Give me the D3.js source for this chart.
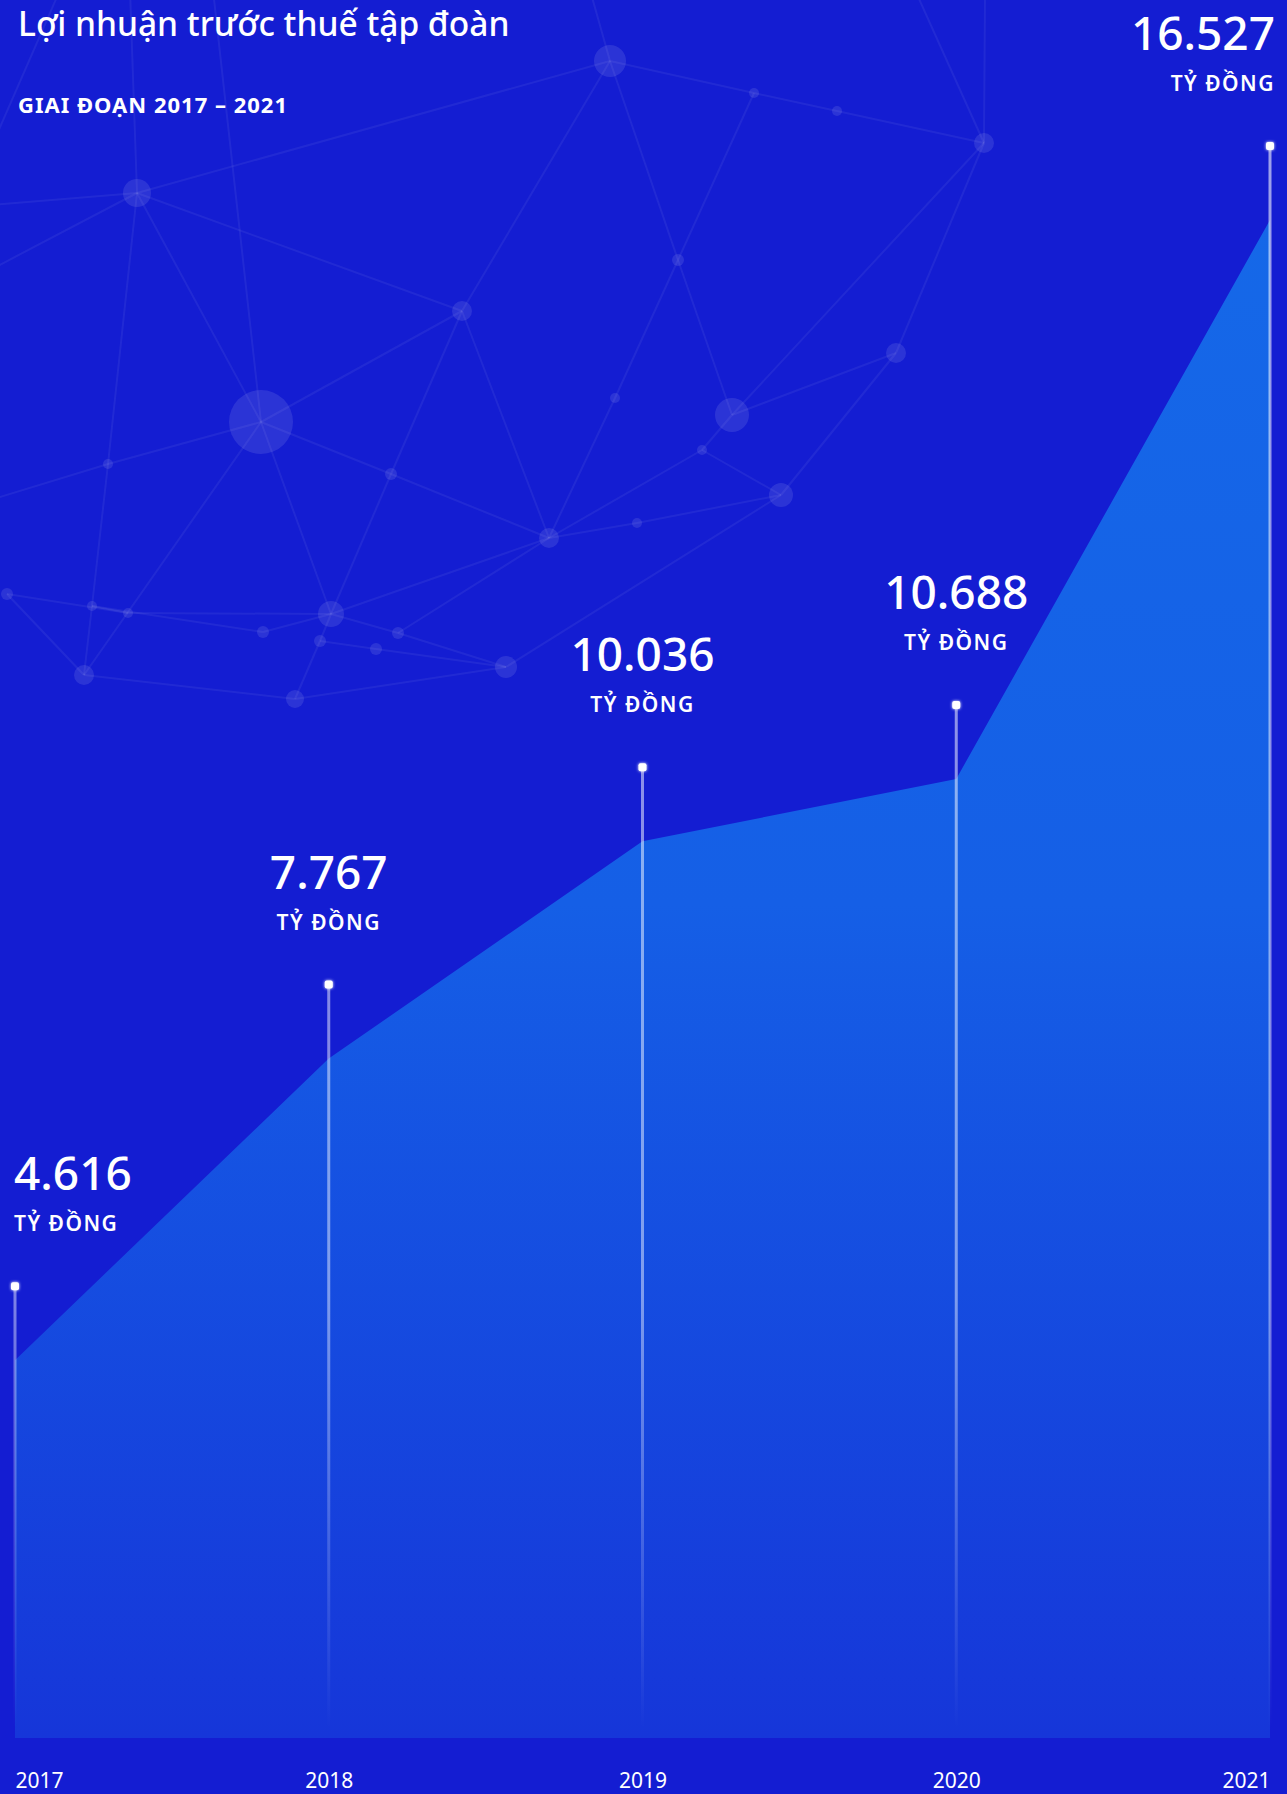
<!DOCTYPE html>
<html lang="vi">
<head>
<meta charset="utf-8">
<script src="https://cdn.jsdelivr.net/npm/d3@7"></script>
<style>
  html, body { margin: 0; padding: 0; background: #141dd2; }
  svg { display: block; font-family: "Noto Sans", "Open Sans", sans-serif; }
</style>
</head>
<body>
<svg id="chart" width="1287" height="1794"></svg>
<script>
// dữ liệu
const years = ["2017", "2018", "2019", "2020", "2021"];
const profits = [4616, 7767, 10036, 10688, 16527];
const valueLabels = ["4.616", "7.767", "10.036", "10.688", "16.527"];
const unitLabel = "TỶ ĐỒNG";
const titleText = "Lợi nhuận trước thuế tập đoàn";
const subtitleText = "GIAI ĐOẠN 2017 – 2021";

// mạng lưới trang trí phía nền
const bgNodes = [
  ["a", 610, 61, 16], ["b", 137, 193, 14], ["c", 754, 93, 5], ["d", 837, 111, 5],
  ["e", 984, 143, 10], ["f", 462, 311, 10], ["g", 678, 260, 6], ["h", 261, 422, 32],
  ["i", 732, 415, 17], ["j", 896, 353, 10], ["k", 615, 398, 5], ["l", 108, 464, 5],
  ["m", 391, 474, 6], ["n", 702, 450, 5], ["o", 781, 495, 12], ["p", 549, 538, 10],
  ["q", 637, 523, 5], ["r", 7, 594, 6], ["s", 92, 606, 5], ["t", 128, 613, 5],
  ["u", 331, 614, 13], ["v", 263, 632, 6], ["w", 320, 641, 6], ["x", 398, 633, 6],
  ["y", 376, 649, 6], ["z", 506, 667, 11], ["A", 84, 675, 10], ["B", 295, 699, 9],
  // điểm neo ngoài khung
  ["E1", -10, 205, 0], ["E2", 213, -10, 0], ["E3", 130, -10, 0], ["E4", 915, -10, 0],
  ["E5", 985, -10, 0], ["E6", -10, 270, 0], ["E7", 590, -10, 0], ["E8", -10, 500, 0],
  ["E9", -10, 150, 0], ["E10", 60, -10, 0]
];
const bgLinks = [
  ["b", "a"], ["a", "f"], ["a", "g"], ["a", "c"], ["c", "d"], ["d", "e"], ["c", "g"],
  ["e", "i"], ["b", "h"], ["b", "f"], ["b", "l"], ["l", "s"], ["s", "A"], ["f", "h"],
  ["f", "m"], ["f", "p"], ["h", "l"], ["h", "A"], ["h", "m"], ["h", "u"], ["h", "E2"],
  ["m", "u"], ["m", "p"], ["g", "k"], ["k", "p"], ["g", "i"], ["i", "j"], ["i", "n"],
  ["j", "o"], ["n", "o"], ["o", "q"], ["q", "p"], ["o", "z"], ["n", "p"], ["p", "u"],
  ["u", "w"], ["u", "v"], ["u", "x"], ["x", "z"], ["y", "z"], ["w", "y"], ["v", "s"],
  ["r", "t"], ["t", "u"], ["r", "A"], ["A", "B"], ["B", "z"], ["B", "w"], ["s", "t"],
  ["b", "E1"], ["b", "E3"], ["e", "E4"], ["e", "E5"], ["b", "E6"], ["a", "E7"],
  ["l", "E8"], ["E9", "E10"], ["j", "e"], ["x", "p"]
];

const width = 1287;
const height = 1794;
const svg = d3.select("#chart");
const defs = svg.append("defs");

svg.append("rect").attr("width", width).attr("height", height).attr("fill", "#141dd2");

// nền mạng lưới
const nodeById = new Map(bgNodes.map(d => [d[0], d]));
const bg = svg.append("g").attr("class", "network");
bg.selectAll("line")
  .data(bgLinks)
  .enter().append("line")
  .attr("x1", d => nodeById.get(d[0])[1])
  .attr("y1", d => nodeById.get(d[0])[2])
  .attr("x2", d => nodeById.get(d[1])[1])
  .attr("y2", d => nodeById.get(d[1])[2])
  .attr("stroke", "#ffffff")
  .attr("stroke-opacity", 0.06)
  .attr("stroke-width", 2);
bg.selectAll("circle")
  .data(bgNodes.filter(d => d[3] > 0))
  .enter().append("circle")
  .attr("cx", d => d[1])
  .attr("cy", d => d[2])
  .attr("r", d => d[3])
  .attr("fill", "#ffffff")
  .attr("fill-opacity", 0.1);

// thang đo
const x = d3.scalePoint().domain(years).range([15, 1270]);
const y = d3.scaleLinear().domain([0, d3.max(profits)]).range([1802, 220]);
const baseY = 1738;
const stemOffset = 74;

const data = years.map((yr, i) => ({ year: yr, value: profits[i], label: valueLabels[i] }));

// gradient vùng
const areaGrad = defs.append("linearGradient")
  .attr("id", "areaGrad")
  .attr("gradientUnits", "userSpaceOnUse")
  .attr("x1", 0).attr("y1", y(d3.max(profits)))
  .attr("x2", 0).attr("y2", baseY);
areaGrad.append("stop").attr("offset", "0%").attr("stop-color", "#1568e8");
areaGrad.append("stop").attr("offset", "45%").attr("stop-color", "#155fe6");
areaGrad.append("stop").attr("offset", "100%").attr("stop-color", "#1636d9");

const stemGrad = defs.append("linearGradient")
  .attr("id", "stemGrad")
  .attr("gradientUnits", "userSpaceOnUse")
  .attr("x1", 0).attr("y1", 0)
  .attr("x2", 0).attr("y2", baseY - 10);
stemGrad.append("stop").attr("offset", "0%").attr("stop-color", "#ffffff").attr("stop-opacity", 0.6);
stemGrad.append("stop").attr("offset", "75%").attr("stop-color", "#ffffff").attr("stop-opacity", 0.45);
stemGrad.append("stop").attr("offset", "100%").attr("stop-color", "#ffffff").attr("stop-opacity", 0);

const glow = defs.append("filter").attr("id", "glow")
  .attr("x", "-200%").attr("y", "-200%").attr("width", "500%").attr("height", "500%");
glow.append("feGaussianBlur").attr("stdDeviation", 1.5).attr("result", "blur");
const merge = glow.append("feMerge");
merge.append("feMergeNode").attr("in", "blur");
merge.append("feMergeNode").attr("in", "SourceGraphic");

// vùng
const area = d3.area()
  .x(d => x(d.year))
  .y0(baseY)
  .y1(d => y(d.value));

svg.append("path")
  .datum(data)
  .attr("d", area)
  .attr("fill", "url(#areaGrad)");

// cột mốc
const stems = svg.append("g").attr("class", "stems");
stems.selectAll("rect.stem")
  .data(data)
  .enter().append("rect")
  .attr("class", "stem")
  .attr("x", d => x(d.year) - 1.5)
  .attr("y", d => y(d.value) - stemOffset)
  .attr("width", 3)
  .attr("height", d => baseY - (y(d.value) - stemOffset))
  .attr("fill", "url(#stemGrad)");

stems.selectAll("rect.dot")
  .data(data)
  .enter().append("rect")
  .attr("class", "dot")
  .attr("x", d => x(d.year) - 4)
  .attr("y", d => y(d.value) - stemOffset - 4)
  .attr("width", 8)
  .attr("height", 8)
  .attr("rx", 2)
  .attr("fill", "#ffffff")
  .attr("filter", "url(#glow)");

// nhãn giá trị
const anchorFor = (d, i) => i === 0 ? "start" : (i === data.length - 1 ? "end" : "middle");
const labelX = (d, i) => i === 0 ? x(d.year) - 1 : (i === data.length - 1 ? x(d.year) + 5 : x(d.year));

const labels = svg.append("g").attr("class", "labels").attr("fill", "#ffffff");
labels.selectAll("text.value")
  .data(data)
  .enter().append("text")
  .attr("class", "value")
  .attr("x", labelX)
  .attr("y", d => y(d.value) - stemOffset - 96)
  .attr("text-anchor", anchorFor)
  .attr("font-size", 46)
  .attr("font-weight", 500)
  .text(d => d.label);

labels.selectAll("text.unit")
  .data(data)
  .enter().append("text")
  .attr("class", "unit")
  .attr("x", labelX)
  .attr("y", d => y(d.value) - stemOffset - 55)
  .attr("text-anchor", anchorFor)
  .attr("font-size", 21)
  .attr("font-weight", 600)
  .attr("letter-spacing", 1.5)
  .text(unitLabel);

// trục năm
const axis = svg.append("g")
  .attr("transform", `translate(0, 1773)`)
  .call(d3.axisBottom(x).tickSize(0).tickPadding(0));
axis.select(".domain").remove();
axis.selectAll("text")
  .attr("fill", "#ffffff")
  .attr("font-size", 21)
  .attr("font-family", "'Noto Sans', sans-serif")
  .attr("text-anchor", (d, i) => anchorFor(d, i));

// tiêu đề
svg.append("text")
  .attr("x", 18).attr("y", 36)
  .attr("fill", "#ffffff")
  .attr("font-size", 33.5)
  .attr("font-weight", 500)
  .text(titleText);

svg.append("text")
  .attr("x", 18).attr("y", 113)
  .attr("fill", "#ffffff")
  .attr("font-size", 22)
  .attr("font-weight", 700)
  .attr("letter-spacing", 1)
  .text(subtitleText);
</script>
</body>
</html>
